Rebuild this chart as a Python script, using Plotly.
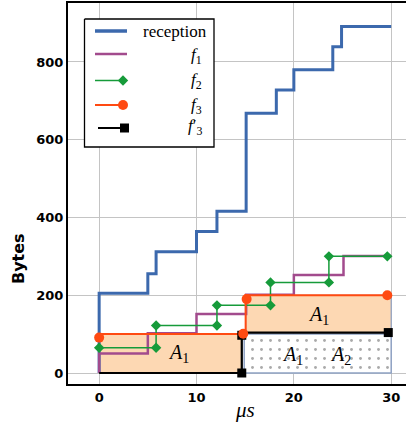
import plotly.graph_objects as go

# ---------------- data ----------------
rec_t = [0, 0, 5, 5.85, 10, 12.1, 15.1, 18.2, 20, 24, 24.9, 30]
rec_b = [0, 205, 255, 312, 364, 416, 668, 728, 780, 839, 891, 891]

f1_t = [0, 0, 5, 10, 15.1, 20, 25.1, 30]
f1_b = [0, 50, 102, 152, 201, 252, 301, 301]

f2_t = [0, 5.85, 5.85, 12.1, 12.1, 17.6, 17.6, 23.6, 23.6, 29.6]
f2_b = [65, 65, 122, 122, 174, 174, 233, 233, 300, 300]

f3_t = [0, 15.05, 15.05, 30]
f3_b = [100, 100, 200, 200]
f3_pt_t = [0, 14.8, 15.15, 29.6]
f3_pt_b = [91, 101, 190, 200]

f3p_t = [0, 14.65, 14.65, None, 15.0, 29.7]
f3p_b = [0, 0, 97, None, 104, 104]
f3p_pt_t = [14.65, 14.65, 29.7]
f3p_pt_b = [0, 97, 104]

# areas: (t0, t1, b0, b1)
area_a1_left = (0, 14.65, 0, 100)
area_a1_right = (15.05, 30, 104, 200)
area_dotted = (14.9, 30, 0, 100)

area_labels_t = [8.1, 22.5, 19.9, 24.8]
area_labels_b = [50, 147, 45, 45]
area_labels = ["<i>A</i><sub>1</sub>", "<i>A</i><sub>1</sub>",
               "<i>A</i><sub>1</sub>", "<i>A</i><sub>2</sub>"]

x_ticks = [0, 10, 20, 30]
y_ticks = [0, 200, 400, 600, 800]

legend_names = ["reception", "<i>f</i><sub>1</sub>", "<i>f</i><sub>2</sub>",
                "<i>f</i><sub>3</sub>", "<i>f</i>′<sub>3</sub>"]

# ---------------- style ----------------
C_REC = "#3c69ad"
C_F1 = "#a24b8d"
C_F2 = "#169b3a"
C_F3 = "#ff4a12"
C_F3P = "#000000"
C_PEACH = "#fdd8b3"
C_EDGE = "#8fa2c4"
SERIF = "Liberation Serif"

W, H = 406, 424
ML, MR, MT, MB = 68, 0, 3, 40
PW, PH = W - ML - MR, H - MT - MB

fig = go.Figure()


def rect(a):
    t0, t1, b0, b1 = a
    return [t0, t1, t1, t0, t0], [b0, b0, b1, b1, b0]


for a in (area_a1_left, area_a1_right):
    xs, ys = rect(a)
    fig.add_trace(go.Scatter(x=xs, y=ys, mode="lines", fill="toself",
                             fillcolor=C_PEACH, line=dict(color=C_EDGE, width=1.2),
                             hoverinfo="skip", showlegend=False))

xs, ys = rect(area_dotted)
fig.add_trace(go.Scatter(x=xs, y=ys, mode="lines", fill="toself",
                         fillcolor="white",
                         fillpattern=dict(shape=".", fgcolor="#555555", bgcolor="white",
                                          size=9, solidity=0.08),
                         line=dict(color=C_EDGE, width=1.5),
                         hoverinfo="skip", showlegend=False))

fig.add_trace(go.Scatter(x=rec_t, y=rec_b, mode="lines", line_shape="hv",
                         line=dict(color=C_REC, width=3), name="reception", showlegend=False))
fig.add_trace(go.Scatter(x=f1_t, y=f1_b, mode="lines", line_shape="hv",
                         line=dict(color=C_F1, width=2.5), name="f1", showlegend=False))
fig.add_trace(go.Scatter(x=f2_t, y=f2_b, mode="lines+markers",
                         line=dict(color=C_F2, width=1.5),
                         marker=dict(symbol="diamond", size=8, color=C_F2),
                         name="f2", showlegend=False))
fig.add_trace(go.Scatter(x=f3_t, y=f3_b, mode="lines",
                         line=dict(color=C_F3, width=2), name="f3", showlegend=False))
fig.add_trace(go.Scatter(x=f3p_t, y=f3p_b, mode="lines", connectgaps=False,
                         line=dict(color=C_F3P, width=2.2), name="f3'", showlegend=False))
fig.add_trace(go.Scatter(x=f3p_pt_t, y=f3p_pt_b, mode="markers",
                         marker=dict(symbol="square", size=9, color=C_F3P),
                         showlegend=False, hoverinfo="skip"))
fig.add_trace(go.Scatter(x=f3_pt_t, y=f3_pt_b, mode="markers",
                         marker=dict(symbol="circle", size=10, color=C_F3),
                         showlegend=False, hoverinfo="skip"))

for t, b, s in zip(area_labels_t, area_labels_b, area_labels):
    fig.add_annotation(x=t, y=b, xref="x", yref="y", text=s, showarrow=False,
                       xanchor="center", yanchor="middle",
                       font=dict(family=SERIF, size=20, color="black"))

# ---------------- custom legend (pixel overlay axes) ----------------
LX0, LX1, LY0, LY1 = 84.5, 214, 19, 147
fig.add_trace(go.Scatter(x=[LX0, LX1, LX1, LX0, LX0], y=[LY0, LY0, LY1, LY1, LY0],
                         mode="lines", fill="toself", fillcolor="white",
                         line=dict(color="black", width=1.3), xaxis="x2", yaxis="y2",
                         hoverinfo="skip", showlegend=False))
rows_y = [31, 54, 80.5, 105, 128]
sw = [
    dict(x=[95, 127], color=C_REC, width=3.5, sym=None),
    dict(x=[95, 127], color=C_F1, width=2.5, sym=None),
    dict(x=[95, 123], color=C_F2, width=1.5, sym=("diamond", 8)),
    dict(x=[95, 123], color=C_F3, width=2, sym=("circle", 10)),
    dict(x=[98, 124.5], color=C_F3P, width=2, sym=("square", 9)),
]
for yy, s in zip(rows_y, sw):
    fig.add_trace(go.Scatter(x=s["x"], y=[yy, yy], mode="lines", xaxis="x2", yaxis="y2",
                             line=dict(color=s["color"], width=s["width"]),
                             hoverinfo="skip", showlegend=False))
    if s["sym"]:
        fig.add_trace(go.Scatter(x=[s["x"][1]], y=[yy], mode="markers", xaxis="x2", yaxis="y2",
                                 marker=dict(symbol=s["sym"][0], size=s["sym"][1], color=s["color"]),
                                 hoverinfo="skip", showlegend=False))
label_y = [31, 56, 81, 106, 127]
label_x = [209, 204, 204, 204, 204]
for yy, xx, name in zip(label_y, label_x, legend_names):
    fig.add_annotation(x=xx, y=yy, xref="x2", yref="y2", text=name, showarrow=False,
                       xanchor="right", yanchor="middle",
                       font=dict(family=SERIF, size=17, color="black"))

# axis titles (paper coordinates)
def px_paper(X, Y):
    return (X - ML) / PW, (H - MB - Y) / PH

bx, by = px_paper(18, 259)
fig.add_annotation(x=bx, y=by, xref="paper", yref="paper", text="<b>Bytes</b>", textangle=-90,
                   xanchor="center", yanchor="middle",
                   showarrow=False, font=dict(family="DejaVu Sans", size=16, color="black"))
mx, my = px_paper(245, 410)
fig.add_annotation(x=mx, y=my, xref="paper", yref="paper", text="<i>μs</i>",
                   xanchor="center", yanchor="middle",
                   showarrow=False, font=dict(family=SERIF, size=21, color="black"))

tickfont = dict(family="DejaVu Sans", size=13, color="black", weight="bold")
fig.update_layout(
    width=W, height=H, margin=dict(l=ML, r=MR, t=MT, b=MB),
    paper_bgcolor="white", plot_bgcolor="white", showlegend=False,
    xaxis=dict(range=[-3.2, 31.52], tickvals=x_ticks, ticks="", showgrid=True,
               gridcolor="#c4c4c4", gridwidth=1.3, zeroline=False, showline=True,
               linecolor="black", linewidth=2, mirror=True, tickfont=tickfont),
    yaxis=dict(range=[-28.3, 951.6], tickvals=y_ticks, ticks="", showgrid=True,
               gridcolor="#c4c4c4", gridwidth=1.3, zeroline=False, showline=True,
               linecolor="black", linewidth=2, mirror=False, tickfont=tickfont),
    xaxis2=dict(range=[ML, W - MR], overlaying="x", visible=False, fixedrange=True),
    yaxis2=dict(range=[H - MB, MT], overlaying="y", visible=False, fixedrange=True),
)

fig.write_html("out.html", config={"displayModeBar": False},
               post_script="document.body.style.margin='0';document.body.style.overflow='hidden';")
